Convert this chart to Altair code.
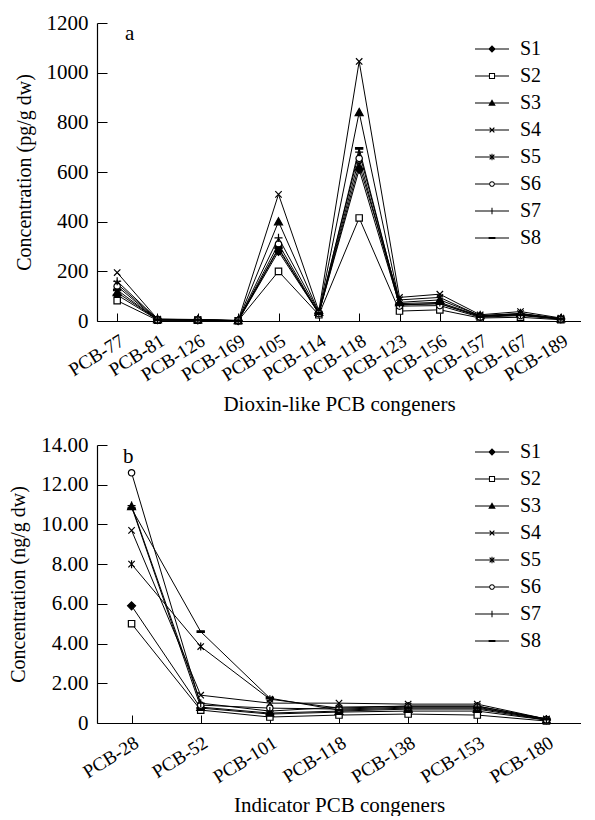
import altair as alt
import pandas as pd

FONT = "Liberation Serif, Times New Roman, DejaVu Serif, serif"

series = ["S1", "S2", "S3", "S4", "S5", "S6", "S7", "S8"]

# Panel a: dioxin-like PCB congeners (pg/g dw)
dl_congeners = ["PCB-77", "PCB-81", "PCB-126", "PCB-169", "PCB-105", "PCB-114",
                "PCB-118", "PCB-123", "PCB-156", "PCB-157", "PCB-167", "PCB-189"]
dl_S1 = [105, 5, 4, 1, 280, 30, 610, 65, 70, 18, 25, 8]
dl_S2 = [82, 3, 3, 1, 200, 25, 415, 40, 45, 12, 15, 5]
dl_S3 = [115, 6, 5, 2, 400, 35, 840, 75, 85, 22, 30, 9]
dl_S4 = [195, 8, 6, 2, 510, 40, 1045, 95, 108, 25, 38, 12]
dl_S5 = [150, 6, 5, 1, 290, 30, 630, 85, 95, 20, 30, 10]
dl_S6 = [140, 4, 4, 1, 310, 30, 655, 60, 62, 15, 22, 7]
dl_S7 = [160, 7, 5, 2, 335, 35, 680, 70, 75, 20, 28, 9]
dl_S8 = [125, 5, 4, 1, 295, 30, 695, 65, 70, 18, 25, 8]

# Panel b: indicator PCB congeners (ng/g dw)
ind_congeners = ["PCB-28", "PCB-52", "PCB-101", "PCB-118", "PCB-138", "PCB-153", "PCB-180"]
ind_S1 = [5.9, 0.75, 0.45, 0.55, 0.6, 0.6, 0.15]
ind_S2 = [5.0, 0.65, 0.3, 0.4, 0.45, 0.4, 0.1]
ind_S3 = [10.9, 0.8, 0.5, 0.6, 0.7, 0.7, 0.15]
ind_S4 = [9.7, 1.4, 1.0, 1.0, 0.95, 0.95, 0.2]
ind_S5 = [8.0, 3.85, 1.2, 0.75, 0.85, 0.85, 0.2]
ind_S6 = [12.6, 0.9, 0.75, 0.7, 0.8, 0.8, 0.15]
ind_S7 = [10.95, 1.0, 0.6, 0.8, 0.85, 0.85, 0.2]
ind_S8 = [10.8, 4.6, 1.25, 0.65, 0.75, 0.75, 0.2]

panel_labels = ["a", "b"]

# marker shapes used in the plot
marker_paths = [
    "M0,-1L1,0L0,1L-1,0Z",
    "M-0.8,-0.8H0.8V0.8H-0.8Z",
    "M0,-1L1,0.8H-1Z",
    "M-0.8,-0.8L0.8,0.8M-0.8,0.8L0.8,-0.8",
    "M-0.8,-0.8L0.8,0.8M-0.8,0.8L0.8,-0.8M0,-1V1",
    "M0.8,0A0.8,0.8 0 1,1 -0.8,0A0.8,0.8 0 1,1 0.8,0Z",
    "M-1,0H1M0,-1V1",
    "M-0.9,-0.2H0.9V0.2H-0.9Z",
]
marker_fills = ["black", "white", "black", "black", "black", "white", "black", "black"]

# legend symbols (line + marker), built only from filled outlines
LINE = "M-2.5,-0.08H2.5V0.08H-2.5Z"
XCROSS = ("M-0.286,-0.414L0.414,0.286L0.286,0.414L-0.414,-0.286Z"
          "M-0.414,0.286L0.286,-0.414L0.414,-0.286L-0.286,0.414Z")
VBAR = "M-0.075,-0.48H0.075V0.48H-0.075Z"
legend_paths = [
    LINE + "M0,-0.55L0.55,0L0,0.55L-0.55,0Z",
    "M-2.5,-0.08H-0.45V0.08H-2.5ZM0.45,-0.08H2.5V0.08H0.45Z"
    "M-0.45,-0.45H0.45V0.45H-0.45ZM-0.3,-0.3V0.3H0.3V-0.3Z",
    LINE + "M0,-0.55L0.55,0.4H-0.55Z",
    LINE + XCROSS,
    LINE + XCROSS + VBAR,
    "M-2.5,-0.08H-0.42V0.08H-2.5ZM0.42,-0.08H2.5V0.08H0.42Z"
    "M0.42,0A0.42,0.42 0 1,1 -0.42,0A0.42,0.42 0 1,1 0.42,0Z"
    "M0.27,0A0.27,0.27 0 1,0 -0.27,0A0.27,0.27 0 1,0 0.27,0Z",
    LINE + VBAR,
    LINE + "M-0.5,-0.16H0.5V0.16H-0.5Z",
]


def to_long(cats, cols):
    rows = []
    for s, vals in zip(series, cols):
        for i, (c, v) in enumerate(zip(cats, vals)):
            rows.append({"series": s, "congener": c, "idx": i, "value": v})
    return pd.DataFrame(rows)


df_a = to_long(dl_congeners, [dl_S1, dl_S2, dl_S3, dl_S4, dl_S5, dl_S6, dl_S7, dl_S8])
df_b = to_long(ind_congeners, [ind_S1, ind_S2, ind_S3, ind_S4, ind_S5, ind_S6, ind_S7, ind_S8])


def panel(df, cats, ymax, yvals, ytitle, xtitle, label, label_expr, lx, ly, legx, legy,
          w, h, xtitle_pad):
    xscale = alt.Scale(padding=0.5)
    yscale = alt.Scale(domain=[0, ymax], nice=False)
    x_main = alt.X("congener:N", sort=cats, scale=xscale,
                   axis=alt.Axis(title=xtitle, labelAngle=-32, labelAlign="right",
                                 labelBaseline="top", labelPadding=10, ticks=False,
                                 labelOverlap=False, titlePadding=xtitle_pad))
    y_main = alt.Y("value:Q", scale=yscale,
                   axis=alt.Axis(title=ytitle, values=yvals, ticks=False, labelPadding=9,
                                 labelExpr=label_expr, titlePadding=12, titleFontSize=20))
    # inward-pointing ticks: mirrored axes moved onto the plot edges
    x_ticks = alt.X("congener:N", sort=cats, scale=xscale,
                    axis=alt.Axis(orient="top", offset=-h, labels=False, domain=False,
                                  title=None, tickSize=8))
    y_ticks = alt.Y("value:Q", scale=yscale,
                    axis=alt.Axis(orient="right", offset=-w, labels=False, domain=False,
                                  title=None, values=yvals, tickSize=10))
    x_none = alt.X("congener:N", sort=cats, scale=xscale, axis=None)
    y_none = alt.Y("value:Q", scale=yscale, axis=None)

    base = alt.Chart(df)
    lines = base.mark_line(color="black", strokeWidth=1).encode(
        x=x_main, y=y_main, detail="series:N", order="idx:Q")
    pts = base.mark_point(filled=True, stroke="black", strokeWidth=1.2, size=64, opacity=1).encode(
        x=x_none, y=y_none,
        shape=alt.Shape("series:N", scale=alt.Scale(domain=series, range=marker_paths), legend=None),
        fill=alt.Fill("series:N", scale=alt.Scale(domain=series, range=marker_fills), legend=None),
    )
    leg = base.mark_point(filled=True, fill="black", opacity=0).encode(
        x=x_ticks, y=y_ticks,
        shape=alt.Shape("series:N", scale=alt.Scale(domain=series, range=legend_paths),
                        legend=alt.Legend(title=None, orient="none", legendX=legx, legendY=legy,
                                          symbolSize=185, symbolStrokeWidth=0,
                                          symbolFillColor="black",
                                          symbolOpacity=1, labelFont=FONT, labelFontSize=20,
                                          labelOffset=18, rowPadding=7, padding=0,
                                          labelColor="black")),
    )
    txt = alt.Chart(pd.DataFrame({"t": [label]})).mark_text(
        font=FONT, fontSize=21, align="left", baseline="middle", color="black").encode(
        text="t:N", x=alt.value(lx), y=alt.value(ly))
    return alt.layer(lines, pts, leg, txt).resolve_scale(shape="independent").resolve_axis(
        x="independent", y="independent").properties(width=w, height=h)


top = panel(df_a, dl_congeners, 1200, [0, 200, 400, 600, 800, 1000, 1200],
            "Concentration (pg/g dw)", "Dioxin-like PCB congeners", panel_labels[0],
            "format(datum.value, 'd')", 28, 11, 385, 16, 484, 298, 9)
bottom = panel(df_b, ind_congeners, 14, [0, 2, 4, 6, 8, 10, 12, 14],
               "Concentration (ng/g dw)", "Indicator PCB congeners", panel_labels[1],
               "datum.value == 0 ? '0' : format(datum.value, '.2f')", 26, 12, 385, -3, 484, 278, 8)

chart = alt.vconcat(top, bottom, spacing=19).properties(
    padding={"left": 0, "top": 4, "right": 0, "bottom": 0}
).configure_view(stroke=None).configure_axis(
    labelFont=FONT, titleFont=FONT, labelFontSize=21, titleFontSize=21,
    titleFontWeight="normal", labelColor="black", titleColor="black",
    domainColor="black", tickColor="black", grid=False, domainWidth=1.2, tickWidth=1
).configure_axisX(labelFontSize=19)

chart.save("out.html", embed_options={"renderer": "svg", "actions": False})
